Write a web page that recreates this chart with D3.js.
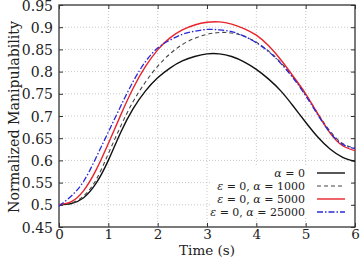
<!DOCTYPE html>
<html><head><meta charset="utf-8">
<script src="https://cdn.jsdelivr.net/npm/d3@7"></script>
<style>
body{margin:0;background:#fff;}
</style></head>
<body><svg id="c" width="360" height="257"></svg>
<script>
const time = [0,0.25,0.5,0.75,1,1.25,1.5,1.75,2,2.25,2.5,2.75,3,3.25,3.5,3.75,4,4.25,4.5,4.75,5,5.25,5.5,5.75,6];
const alpha0   = [0.5,0.503,0.516,0.548,0.6,0.663,0.716,0.756,0.786,0.808,0.824,0.834,0.84,0.84,0.834,0.822,0.805,0.783,0.756,0.722,0.686,0.652,0.625,0.607,0.598];
const alpha1000 = [0.5,0.504,0.52,0.556,0.615,0.677,0.732,0.776,0.812,0.84,0.861,0.875,0.884,0.888,0.887,0.88,0.866,0.846,0.82,0.787,0.748,0.705,0.665,0.638,0.628];
const alpha5000 = [0.5,0.507,0.532,0.578,0.638,0.702,0.762,0.811,0.849,0.876,0.894,0.905,0.911,0.912,0.907,0.897,0.882,0.858,0.826,0.789,0.75,0.704,0.661,0.633,0.622];
const alpha25000 = [0.497,0.52,0.553,0.606,0.664,0.722,0.777,0.822,0.853,0.871,0.884,0.891,0.895,0.894,0.89,0.88,0.865,0.845,0.818,0.785,0.746,0.702,0.662,0.636,0.627];
const xTicks = [0,1,2,3,4,5,6];
const yTicks = [0.45,0.5,0.55,0.6,0.65,0.7,0.75,0.8,0.85,0.9,0.95];
const yTickLabels = ["0.45","0.5","0.55","0.6","0.65","0.7","0.75","0.8","0.85","0.9","0.95"];
const seriesNames = ["α = 0","ε = 0, α = 1000","ε = 0, α = 5000","ε = 0, α = 25000"];

const FONT = "DejaVu Serif";
const svg = d3.select("#c").attr("font-family",FONT);
const L=59,R=355,T=5,B=227;
const x = d3.scaleLinear().domain([0,6]).range([L,R]);
const y = d3.scaleLinear().domain([0.45,0.95]).range([B,T]);

// grid
const g = svg.append("g");
g.selectAll(".vg").data(xTicks.slice(1,-1)).join("line")
 .attr("x1",d=>x(d)).attr("x2",d=>x(d)).attr("y1",T).attr("y2",B)
 .attr("stroke","#bbb").attr("stroke-width",0.8).attr("stroke-dasharray","1,2");
g.selectAll(".hg").data(yTicks.slice(1,-1)).join("line")
 .attr("x1",L).attr("x2",R).attr("y1",d=>y(d)).attr("y2",d=>y(d))
 .attr("stroke","#bbb").attr("stroke-width",0.8).attr("stroke-dasharray","1,2");

// legend background (opaque key)
svg.append("rect").attr("x",212).attr("y",166).attr("width",140).attr("height",52).attr("fill","#fff");

// axes
const ax = svg.append("g").attr("transform",`translate(0,${B})`)
 .call(d3.axisBottom(x).tickValues(xTicks).tickFormat(d3.format("d")).tickSize(-4).tickPadding(2));
const axT = svg.append("g").attr("transform",`translate(0,${T})`)
 .call(d3.axisTop(x).tickValues(xTicks).tickSize(-4).tickFormat(""));
const ay = svg.append("g").attr("transform",`translate(${L},0)`)
 .call(d3.axisLeft(y).tickValues(yTicks).tickFormat((d,i)=>yTickLabels[i]).tickSize(-4).tickPadding(6));
const ayR = svg.append("g").attr("transform",`translate(${R},0)`)
 .call(d3.axisRight(y).tickValues(yTicks).tickSize(-4).tickFormat(""));
[ax,axT,ay,ayR].forEach(a=>{
  a.attr("font-family",FONT).attr("font-size",14);
  a.selectAll("path").remove();
  a.selectAll("line").attr("stroke","#333").attr("stroke-width",1);
  a.selectAll("text").attr("fill","#222");
});
ax.attr("font-size",13.5);
ay.selectAll("text").attr("dy","0.36em");
svg.append("rect").attr("x",L).attr("y",T).attr("width",R-L).attr("height",B-T)
 .attr("fill","none").attr("stroke","#333").attr("stroke-width",1.3);

// labels
svg.append("text").attr("x",x(3)).attr("y",255).attr("text-anchor","middle")
 .attr("font-size",13.5).attr("fill","#222").text("Time (s)");
svg.append("text").attr("transform",`translate(19,${(T+B)/2+1}) rotate(-90)`).attr("text-anchor","middle")
 .attr("font-size",14).attr("fill","#222").attr("textLength",192).attr("lengthAdjust","spacingAndGlyphs").text("Normalized Manipulability");

// lines
const styles = [
 {data:alpha0, color:"#111", dash:null, w:1.4},
 {data:alpha1000, color:"#444", dash:"4,3", w:1.1},
 {data:alpha5000, color:"#e8232a", dash:null, w:1.4},
 {data:alpha25000, color:"#2a2ad6", dash:"6,2,1.5,2", w:1.3}
];
const line = d3.line().x((d,i)=>x(time[i])).y(d=>y(d)).curve(d3.curveNatural);
const plot = svg.append("g");
styles.forEach(s=>{
  plot.append("path").attr("d",line(s.data)).attr("fill","none").attr("stroke",s.color)
   .attr("stroke-width",s.w).attr("stroke-dasharray",s.dash);
});

// legend
const rowY = [173,186,199,212];
styles.forEach((s,i)=>{
  const t = svg.append("text").attr("x",305).attr("y",rowY[i]+4).attr("text-anchor","end")
    .attr("font-size",11).attr("fill","#222");
  const parts = seriesNames[i].split(/([αε])/);
  parts.forEach(p=>{ if(p==="") return; const ts=t.append("tspan").text(p); if(p==="α"||p==="ε") ts.attr("font-style","italic"); });
  svg.append("line").attr("x1",317).attr("x2",345).attr("y1",rowY[i]).attr("y2",rowY[i])
   .attr("stroke",s.color).attr("stroke-width",s.w).attr("stroke-dasharray",s.dash);
});
</script></body></html>
